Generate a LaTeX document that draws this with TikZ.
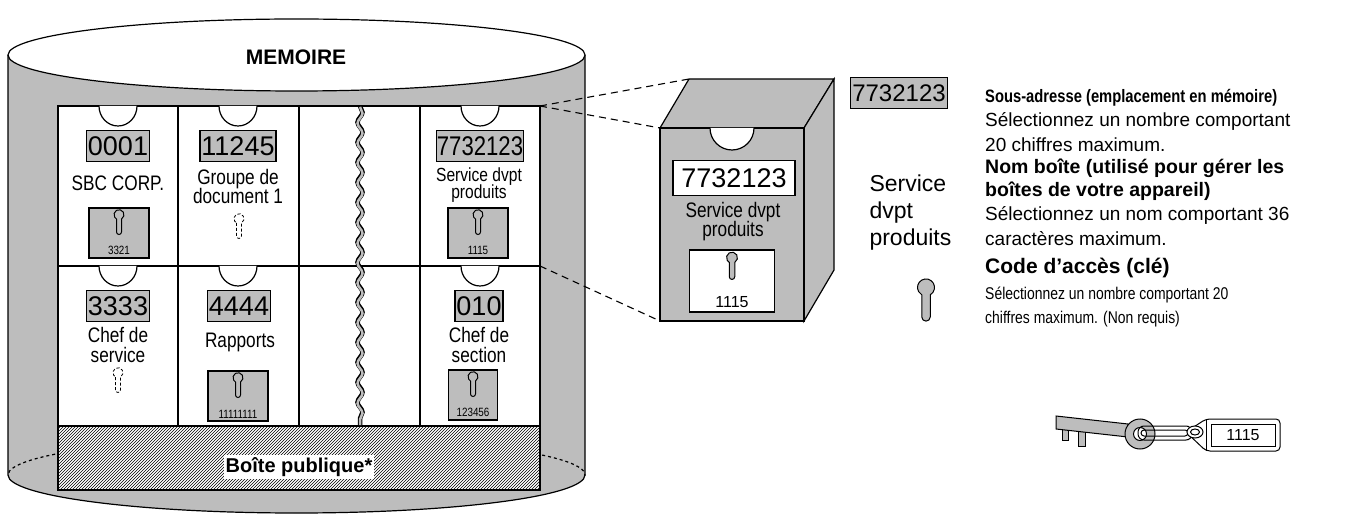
\documentclass[tikz,border=0pt]{standalone}
\usepackage{fontspec}
\setmainfont{Liberation Sans}
\usetikzlibrary{patterns,decorations.pathmorphing}
\definecolor{gr}{HTML}{BDBDBD}
\newcommand{\nr}[1]{\scalebox{0.82}[1]{#1}}
\tikzset{
 ln/.style={line width=1.2pt},
 lbl/.style={draw,ln,fill=gr,inner sep=1.5pt,minimum height=31pt,font=\fontsize{27}{27}\selectfont},
 nm/.style={align=center,font=\fontsize{21}{21}\selectfont},
 kbox/.style={draw,ln,fill=gr,minimum width=60pt,minimum height=50pt},
 keyhole/.pic={\fill[gr,draw=black,line width=1pt] (-2.5,4) -- (-2.5,17) arc(180:0:2.5) -- (2.5,4) arc(60:-240:5) -- cycle;},
 dkey/.pic={\draw[dashed,line width=0.8pt,dash pattern=on 3pt off 2pt] (-2.5,4) -- (-2.5,17) arc(180:0:2.5) -- (2.5,4) arc(60:-240:5) -- cycle;},
 notch/.style={draw,ln,fill=white},
 desc/.style={anchor=west,inner sep=0,font=\fontsize{19}{19}\selectfont},
}
\begin{document}
\begin{tikzpicture}[x=1pt,y=-1pt]
\useasboundingbox (0,0) rectangle (1359,526);
% cylinder
\fill[gr] (8,55) -- (8,475) arc(180:0:288.5 and 38) -- (585,55) -- cycle;
\draw[ln] (8,55) -- (8,475) arc(180:0:288.5 and 38) -- (585,55);
\draw[ln,fill=white] (296.5,55) ellipse (288.5 and 36);
\node[font=\bfseries\fontsize{21}{21}\selectfont] (mem) at (296,57) {MEMOIRE};
% panel
\node[draw,ln,fill=white,minimum width=482pt,minimum height=384pt,inner sep=0] (panel) at (299,298) {};
\draw[ln,pattern=north east lines] (58,426) rectangle (540,490);
\node[font=\bfseries\fontsize{20}{20}\selectfont,fill=white,inner sep=2pt] (pub) at (299,467) {Boîte publique*};
\begin{scope}
\clip (0,430) rectangle (58,475);
\draw[ln,dashed] (296.5,475) ellipse (288.5 and 38);
\end{scope}
\begin{scope}
\clip (540,430) rectangle (600,475);
\draw[ln,dashed] (296.5,475) ellipse (288.5 and 38);
\end{scope}
% grid
\draw[ln] (58,266) -- (540,266);
\foreach \x in {178,299,420} \draw[ln] (\x,106) -- (\x,426);
\draw[line width=4.5pt,decorate,decoration={snake,amplitude=2.5pt,segment length=20pt}] (360,106) -- (360,426);
\draw[line width=2.5pt,gr,decorate,decoration={snake,amplitude=2.5pt,segment length=20pt}] (360,107) -- (360,425);
\foreach \x in {118,238,480} \foreach \y in {106,266} \draw[notch] (\x-19,\y) arc(180:0:19 and 20);
% row 1
\node[lbl] (b1) at (118,146) {0001};
\node[nm] (n1) at (118,183) {\nr{SBC CORP.}};
\node[kbox] (k1) at (119,233) {}; \pic at (119,215) {keyhole};
\node[font=\fontsize{12}{12}\selectfont] at (119,250) {\nr{3321}};
\node[lbl] (b2) at (238,146) {11245};
\node[nm] (n2) at (238,186) {\nr{Groupe de}\\[-2pt]\nr{document 1}};
\pic at (239,219) {dkey};
\node[lbl,inner sep=0.5pt] (b4) at (480,146) {\nr{7732123}};
\node[nm,font=\fontsize{19}{19}\selectfont] (n4) at (479,185) {\nr{Service dvpt}\\[-2pt]\nr{produits}};
\node[kbox] (k4) at (478,233) {}; \pic at (478,215) {keyhole};
\node[font=\fontsize{12}{12}\selectfont] at (478,250) {\nr{1115}};
% row 2
\node[lbl] (b5) at (118,306) {3333};
\node[nm] (n5) at (118,345) {\nr{Chef de}\\[-1pt]\nr{service}};
\pic at (118,373) {dkey};
\node[lbl] (b6) at (239,306) {4444};
\node[nm] (n6) at (240,342) {\nr{Rapports}};
\node[kbox] (k6) at (238,396) {}; \pic at (238,378) {keyhole};
\node[font=\fontsize{12}{12}\selectfont] at (238,414) {\nr{11111111}};
\node[lbl] (b8) at (479,306) {010};
\node[nm] (n8) at (479,345) {\nr{Chef de}\\[-1pt]\nr{section}};
\node[kbox,minimum width=49pt] (k8) at (473,395) {}; \pic at (473,377) {keyhole};
\node[font=\fontsize{12}{12}\selectfont] at (473,412) {\nr{123456}};
% zoom box
\coordinate (g1) at (540,106); \coordinate (g2) at (540,266);
\draw[ln,fill=gr] (660,128) -- (689,79) -- (834,79) -- (804,128) -- cycle;
\draw[ln,fill=gr] (804,128) -- (834,79) -- (834,270) -- (804,321) -- cycle;
\draw[ln,fill=gr] (660,128) rectangle (804,321);
\coordinate (z1) at (689,79); \coordinate (z2) at (660,128); \coordinate (z3) at (660,321);
\draw[line width=1.1pt,dash pattern=on 7pt off 5pt] (g1) -- (z1) (g1) -- (z2) (g2) -- (z3);
\draw[notch] (710,128) arc(180:0:22);
\node[draw,ln,fill=white,minimum width=122pt,minimum height=35pt,font=\fontsize{27}{27}\selectfont] (zb) at (734,178) {7732123};
\node[nm] (zn) at (733,222) {\nr{Service dvpt}\\[-2pt]\nr{produits}};
\node[draw,ln,fill=white,minimum width=85pt,minimum height=62pt] (zk) at (732,281) {};
\pic[scale=1.1] at (732,258) {keyhole};
\node[font=\fontsize{16}{16}\selectfont] at (732,302) {1115};
% legend
\node[lbl,minimum width=86pt,font=\fontsize{24}{24}\selectfont] (lb) at (899,93) {7732123};
\node[anchor=west,align=left,font=\fontsize{23}{27}\selectfont] (ln1) at (866,213) {Service\\dvpt\\produits};
\pic[scale=1.7] at (926,288) {keyhole};
\node[desc,font=\bfseries\fontsize{18}{18}\selectfont] at (985,98) {\nr{Sous-adresse (emplacement en mémoire)}};
\node[desc] at (985,121) {Sélectionnez un nombre comportant};
\node[desc] at (985,145) {20 chiffres maximum.};
\node[desc,font=\bfseries\fontsize{19.5}{19.5}\selectfont] at (985,168) {Nom boîte (utilisé pour gérer les};
\node[desc,font=\bfseries\fontsize{19.5}{19.5}\selectfont] at (985,191) {boîtes de votre appareil)};
\node[desc] at (985,215) {Sélectionnez un nom comportant 36};
\node[desc] at (985,239) {caractères maximum.};
\node[desc,font=\bfseries\fontsize{21}{21}\selectfont] at (985,268) {Code d'accès (clé)};
\node[desc,font=\fontsize{17}{17}\selectfont] at (985,295) {\nr{Sélectionnez un nombre comportant 20}};
\node[desc,font=\fontsize{17}{17}\selectfont] at (985,319) {\nr{chiffres maximum. (Non requis)}};
% key
\draw[line width=1pt,fill=gr] (1078,428) -- (1078,446) -- (1085,446) -- (1085,429);
\draw[line width=1pt,fill=gr] (1062,426) -- (1062,440) -- (1068,440) -- (1068,427);
\draw[line width=1pt,fill=gr] (1056,416) -- (1128,424) -- (1128,437) -- (1056,429) -- cycle;
\draw[line width=1pt,fill=gr] (1140,434) circle (15);
\draw[line width=1pt,fill=white] (1140,434) circle (6.5);
\draw[line width=1pt,rounded corners=6pt] (1138,426) -- (1192,426) -- (1192,440) -- (1138,440) -- cycle;
\draw[line width=1pt,rounded corners=3pt] (1141,430) -- (1188,430) -- (1188,436) -- (1141,436) -- cycle;
\draw[line width=1pt,rounded corners=4pt,fill=white] (1186,432) -- (1206,419) -- (1280,419) -- (1280,451) -- (1206,451) -- cycle;
\draw[line width=1pt,fill=white] (1195,432) ellipse (8 and 6);
\draw[line width=1pt] (1195,432) ellipse (4.5 and 3);
\draw[line width=1pt] (1206,419) -- (1206,451);
\node[draw,line width=1pt,minimum width=64pt,minimum height=22pt,inner sep=0,font=\fontsize{16}{16}\selectfont] (tag) at (1243,435) {1115};
\end{tikzpicture}
\end{document}
